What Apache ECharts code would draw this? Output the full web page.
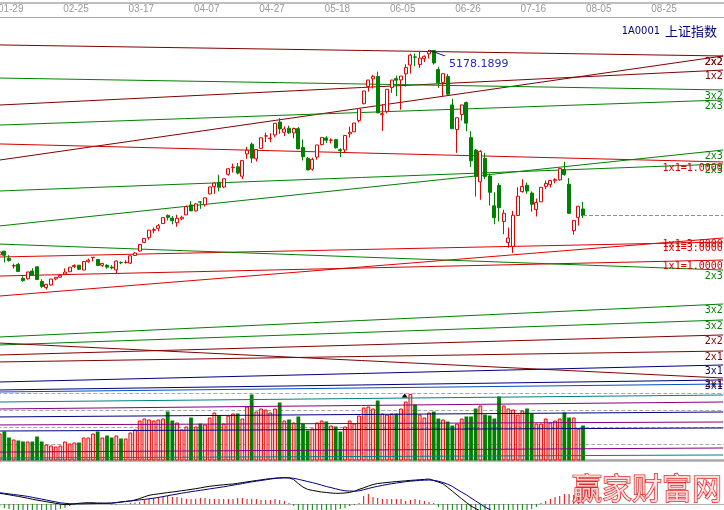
<!DOCTYPE html>
<html><head><meta charset="utf-8">
<script src="https://cdn.jsdelivr.net/npm/echarts/dist/echarts.min.js"></script>
<style>html,body{margin:0;padding:0;background:#fff;}#c{width:724px;height:510px;}</style>
</head><body><div id="c"></div>
<script>
// trading days (category axis)
const dates = ("01-26 01-27 01-28 01-29 01-30 02-02 02-03 02-04 02-05 02-06 02-09 02-10 02-11 02-12 02-13 02-16 02-17 " +
"02-25 02-26 02-27 03-02 03-03 03-04 03-05 03-06 03-09 03-10 03-11 03-12 03-13 03-16 03-17 03-18 03-19 03-20 " +
"03-23 03-24 03-25 03-26 03-27 03-30 03-31 04-01 04-02 04-03 04-07 04-08 04-09 04-10 04-13 04-14 04-15 04-16 04-17 " +
"04-20 04-21 04-22 04-23 04-24 04-27 04-28 04-29 04-30 05-04 05-05 05-06 05-07 05-08 05-11 05-12 05-13 05-14 05-15 " +
"05-18 05-19 05-20 05-21 05-22 05-25 05-26 05-27 05-28 05-29 06-01 06-02 06-03 06-04 06-05 06-08 06-09 06-10 06-11 06-12 " +
"06-15 06-16 06-17 06-18 06-19 06-23 06-24 06-25 06-26 06-29 06-30 07-01 07-02 07-03 07-06 07-07 07-08 07-09 07-10 " +
"07-13 07-14 07-15 07-16 07-17 07-20 07-21 07-22 07-23 07-24 07-27 07-28 07-29 07-30 07-31 08-03 08-04 08-05 08-06 08-07 " +
"08-10 08-11 08-12 08-13 08-14 08-17 08-18 08-19 08-20 08-21 08-24 08-25 08-26 08-27 08-28 08-31 09-01 09-02 " +
"09-07 09-08 09-09 09-10 09-11 09-14").split(" ");
const tickDates = ['01-29','02-25','03-17','04-07','04-27','05-18','06-05','06-26','07-16','08-05','08-25'];

const open = [3357,3390,3326,3258,3273,3148,3144,3213,3251,3120,3066,3090,3143,3158,3187,3207,3252,3265,3222,3296,
3333,3317,3264,3264,3248,3224,3289,3289,3284,3352,3391,3468,3510,3575,3593,3635,3708,3684,3643,3677,
3712,3801,3748,3828,3803,3899,3963,4003,3960,4073,4132,4140,4056,4254,4341,4211,4304,4413,4391,4423,
4538,4447,4483,4441,4479,4311,4216,4119,4226,4337,4396,4376,4381,4292,4290,4433,4451,4551,4701,4854,
4922,4943,4603,4633,4844,4924,4912,4966,5045,5117,5049,5101,5144,5174,5005,4890,4942,4690,4471,4605,
4711,4399,4289,4006,4214,4058,3793,3975,3654,3467,3432,3707,3920,3976,3906,3760,3828,3966,3981,4015,
4024,4116,3985,3573,3690,3765];
const close = [3383,3353,3306,3262,3210,3128,3205,3174,3137,3076,3095,3142,3158,3173,3204,3247,3262,3229,3298,3310,
3336,3263,3280,3248,3241,3302,3286,3291,3349,3373,3449,3503,3577,3582,3617,3688,3691,3661,3682,3691,
3787,3748,3810,3826,3864,3961,3995,3958,4034,4122,4136,4084,4195,4287,4217,4294,4398,4415,4394,4527,
4477,4476,4442,4480,4299,4229,4112,4206,4334,4401,4376,4378,4309,4283,4418,4446,4529,4658,4814,4911,
4942,4620,4612,4829,4911,4910,4947,5023,5132,5114,5106,5122,5166,5063,4887,4968,4785,4478,4576,4690,
4528,4193,4053,4277,4054,3913,3687,3776,3727,3507,3709,3878,3965,3924,3806,3823,3957,3992,4018,4026,
4124,4071,3726,3663,3789,3706];
const low = [3321,3290,3297,3235,3210,3119,3137,3169,3135,3064,3049,3084,3131,3154,3177,3207,3241,3221,3222,3287,
3299,3260,3250,3233,3228,3195,3273,3279,3275,3347,3383,3460,3492,3549,3566,3633,3664,3628,3607,3664,
3711,3747,3742,3766,3787,3896,3900,3922,3950,4061,4089,4072,4031,4212,4174,4187,4303,4358,4358,4403,
4432,4413,4431,4393,4298,4196,4109,4105,4203,4330,4352,4348,4301,4226,4267,4400,4449,4534,4695,4808,
4836,4614,4459,4615,4797,4767,4647,4853,4969,5034,5018,5071,5103,5048,4842,4767,4780,4476,4264,4552,
4456,4139,3875,3847,4030,3795,3629,3653,3541,3421,3374,3707,3910,3900,3741,3698,3828,3941,3956,3993,
4016,4061,3720,3537,3618,3684];
const high = [3385,3390,3355,3279,3286,3167,3206,3238,3251,3140,3099,3143,3160,3182,3237,3248,3273,3266,3300,3324,
3337,3317,3286,3275,3265,3306,3299,3309,3350,3383,3450,3503,3578,3600,3632,3691,3716,3702,3713,3705,
3795,3835,3817,3835,3866,3961,4000,4069,4034,4128,4168,4174,4195,4317,4356,4294,4400,4444,4439,4529,
4572,4499,4505,4488,4493,4383,4228,4221,4334,4402,4412,4392,4388,4305,4418,4497,4529,4658,4814,4911,
4958,4986,4698,4829,4911,4951,4947,5051,5146,5147,5164,5130,5178.1899,5176,5029,4969,4966,4744,4577,4691,
4720,4456,4297,4287,4264,4080,3914,3995,3757,3600,3748,3959,4030,4000,3921,3857,3957,4017,4018,4038,
4132,4184,4040,3667,3792,3828];
// volume (estimated units)
const volume = [270,290,230,210,200,190,190,190,240,190,
160,150,140,150,190,170,180,180,230,230,
270,290,230,250,230,250,220,220,280,310,
400,420,410,400,410,420,490,400,380,310,
340,430,340,370,360,430,480,450,370,450,
470,470,420,540,660,490,520,510,480,520,
580,400,410,380,440,370,300,320,380,400,
390,350,340,290,340,400,370,450,530,540,
520,600,470,460,470,470,520,590,665,560,
460,430,480,490,420,410,390,350,370,420,
440,440,520,550,460,450,420,640,550,520,
510,460,500,520,470,370,370,420,380,400,
420,480,430,430,320,350];
// MACD
const dif = [107,100,92,84,76,67,58,48,39,31,
23,15,7,0,-7,-5,2,7,11,13,
12,10,9,8,8,13,20,25,30,40,
55,72,87,95,101,108,114,120,126,133,
139,146,153,161,170,177,183,188,192,197,
200,207,214,221,228,235,241,248,254,258,
260,262,262,245,204,169,146,136,128,120,
115,110,107,107,110,116,127,146,162,179,
195,205,210,215,220,224,228,232,236,239,
243,246,250,235,219,203,165,128,90,52,
15,-20,-45,-70,-100,-130,-170,-200,-220,-240,
-250,-250,-245,-240,-235,-225,-212,-198,-185,-172,
-160,-150,-155,-165,-170,-175];
const dea = [113,107,101,95,89,83,76,67,58,49,
40,30,21,12,7,3,1,1,2,3,
4,5,6,7,10,15,20,26,31,35,
41,46,52,58,66,74,83,91,99,108,
115,123,130,137,144,151,158,165,172,180,
188,196,204,213,221,228,235,242,249,256,
261,263,261,257,247,236,225,214,202,188,
175,164,152,141,132,130,128,132,143,155,
167,177,186,195,203,210,217,223,228,232,
236,238,240,237,228,215,198,176,146,118,
92,60,30,0,-30,-55,-80,-100,-125,-150,
-170,-185,-195,-200,-205,-207,-208,-206,-202,-197,
-191,-184,-180,-178,-177,-176];
const macdHist = [-30,-40,-50,-60,-70,-70,-70,-70,-70,-70,-60,-60,-60,-50,
-40,-20,-10,5,10,10,10,5,5,3,-5,-5,0,5,10,15,
20,40,50,60,70,70,80,70,70,60,50,50,50,60,60,50,50,50,50,50,50,60,60,50,50,50,40,40,40,50,40,30,10,
-20,-60,-80,-90,-90,-90,-80,-70,-70,-60,-50,-40,-20,-10,10,
80,100,70,60,50,50,50,50,50,30,40,50,40,30,20,10,
-30,-60,-80,-80,-80,-80,-80,-80,-80,-80,-80,-80,-80,-80,-80,-80,-80,-80,-70,-60,-50,-30,
10,30,50,70,80,100,100,90,90,80];
// Gann lines: value at first and last category
const gannLabels = ['2x2','2x2','1x2','3x2','2x3','1x1=1.0000','2x3','2x3','1x1=3.0000','1x1=3.0000','1x1=1.0000','2x3',
'3x2','3x2','2x2','2x1','2x1','3x1','3x1','','','','','','','',''];
const gannStart = [5223,4200,4689,4929,4511,4343,3614,3925,3338,2991,3169,3453,2627,2556,2467,2405,2573,2227,2156,2138,2049,1987,1916,1845,1791,1604,1551];
const gannEnd   = [5125,5125,5000,4823,4734,4183,4289,4165,3471,3507,3311,3222,2920,2778,2645,2502,2262,2378,2245,2209,2111,2049,1960,1871,1818,1640,1578];

// styles
const gannColors = ['#800000','#800000','#800000','#008000','#008000','#d00000','#008000','#008000','#e00000','#e00000','#d00000','#008000',
'#008000','#008000','#800000','#800000','#800000','#000080','#000080','#0050c0','#008080','#800080','#000080','#800080','#000080','#800080','#008080'];
const UP = '#e80000', DOWN = '#008000';

const chart = echarts.init(document.getElementById('c'), null, {renderer: 'canvas'});
const N = dates.length;
const lastIdx = close.length - 1;
const gridBase = {left: -2.67, width: 728.05, containLabel: false, outerBoundsMode: 'none'};

const series = [];
// volume
series.push({
  type: 'bar', xAxisIndex: 1, yAxisIndex: 1, barWidth: 3.8, silent: true,
  data: volume.map((v, i) => ({
    value: v,
    itemStyle: close[i] >= open[i] ? {color: '#ffd4d4', borderColor: '#f00000', borderWidth: 1} : {color: DOWN}
  })),
  markPoint: {
    silent: true, symbol: 'triangle', symbolSize: [6, 4], symbolOffset: [-1, -6],
    itemStyle: {color: '#000'}, label: {show: false},
    data: [{coord: [dates[87], volume[87]]}]
  }
});
// Gann lines
gannLabels.forEach((lab, k) => {
  series.push({
    type: 'line', xAxisIndex: 0, yAxisIndex: 0, silent: true,
    symbol: 'circle', symbolSize: 0.5, showSymbol: true,
    itemStyle: {color: gannColors[k]},
    lineStyle: {color: gannColors[k], width: 1},
    data: [
      {value: [0, gannStart[k]]},
      {value: [N - 1, gannEnd[k]], label: {
        show: lab !== '', formatter: lab, position: [0, 2], align: 'right', verticalAlign: 'top',
        color: gannColors[k], fontFamily: 'DejaVu Sans Mono', fontSize: 10
      }}
    ],
    z: 3
  });
});
// candles
series.push({
  type: 'candlestick', xAxisIndex: 0, yAxisIndex: 0, barWidth: 3.6, silent: true,
  data: open.map((o, i) => [o, close[i], low[i], high[i]]),
  itemStyle: {color: '#ffffff', color0: DOWN, borderColor: UP, borderColor0: DOWN, borderColorDoji: UP, borderWidth: 1},
  markPoint: {
    silent: true,
    symbol: 'path://M0,0L16,6', symbolSize: [16, 6], symbolOffset: ['50%', '50%'], symbolKeepAspect: false,
    itemStyle: {color: 'none', borderColor: '#000080', borderWidth: 1},
    label: {show: true, position: [24, 16], align: 'left', verticalAlign: 'middle',
      formatter: p => Number(p.value).toFixed(4), color: '#2828c0', fontFamily: 'DejaVu Sans', fontSize: 11},
    data: [{type: 'max', valueDim: 'highest'}]
  },
  markLine: {
    silent: true, symbol: 'none', label: {show: false},
    lineStyle: {color: '#909090', type: 'dashed', width: 1},
    data: [[{coord: [dates[lastIdx], close[lastIdx]]}, {coord: [dates[N - 1], close[lastIdx]]}]]
  },
  z: 4
});
// MACD
series.push({
  type: 'bar', xAxisIndex: 2, yAxisIndex: 2, barWidth: 1, silent: true,
  data: macdHist.map(v => ({value: v, itemStyle: {color: v >= 0 ? '#f00000' : DOWN}}))
});
series.push({type: 'line', xAxisIndex: 2, yAxisIndex: 2, data: dif, symbol: 'none', silent: true,
  lineStyle: {color: '#000000', width: 1}});
series.push({type: 'line', xAxisIndex: 2, yAxisIndex: 2, data: dea, symbol: 'none', silent: true,
  lineStyle: {color: '#000080', width: 1}});

chart.setOption({
  animation: false,
  backgroundColor: '#ffffff',
  title: [
    {text: '{a|1A0001} {b|上证指数}', right: 2, top: 17,
      textStyle: {fontWeight: 'normal', rich: {
        a: {fontFamily: "'DejaVu Sans Condensed', 'Liberation Sans'", fontSize: 11, fontWeight: 'normal', color: '#000080'},
        b: {fontFamily: 'Noto Sans CJK SC', fontSize: 13, fontWeight: 'normal', color: '#000080'}
      }}},
    {text: '赢家财富网', left: 567, top: 468,
      textStyle: {fontFamily: 'Noto Sans CJK SC', fontSize: 30, fontWeight: 'normal',
        color: 'rgba(255,235,235,0.85)', textBorderColor: '#e02828', textBorderWidth: 1.4}}
  ],
  graphic: [{type: 'line', shape: {x1: 0, y1: 3, x2: 724, y2: 3}, style: {stroke: '#a8a8a8', lineWidth: 1.5}, silent: true}],
  grid: [
    Object.assign({top: 17, height: 443}, gridBase),
    Object.assign({top: 393.5, height: 67}, gridBase),
    Object.assign({top: 477, height: 83}, gridBase)
  ],
  xAxis: [
    {type: 'category', gridIndex: 0, data: dates, position: 'top', boundaryGap: true,
      axisLine: {show: true, lineStyle: {color: '#a8a8a8', width: 1}},
      axisTick: {show: false}, splitLine: {show: false},
      axisLabel: {show: true, interval: (idx, val) => tickDates.indexOf(val) >= 0,
        color: '#9a9a9a', fontFamily: 'Liberation Sans', fontSize: 10, margin: 3, padding: [0, 6, 0, 0]}},
    {type: 'category', gridIndex: 1, data: dates, boundaryGap: true, offset: 1.5,
      axisLine: {show: true, lineStyle: {color: '#a8a8a8', width: 2.5}},
      axisTick: {show: false}, axisLabel: {show: false}, splitLine: {show: false}},
    {type: 'category', gridIndex: 2, data: dates, position: 'top', boundaryGap: true,
      axisLine: {show: true, lineStyle: {color: '#b4b4b4', width: 1}},
      axisTick: {show: false}, axisLabel: {show: false}, splitLine: {show: false}}
  ],
  yAxis: [
    {type: 'value', gridIndex: 0, min: 1533.3, max: 5471.6, show: false, splitLine: {show: false}},
    {type: 'value', gridIndex: 1, min: 0, max: 670, interval: 167.5,
      axisLine: {show: false}, axisTick: {show: false}, axisLabel: {show: false},
      splitLine: {show: true, lineStyle: {color: '#a8a8a8', type: 'dashed', width: 1}}},
    {type: 'value', gridIndex: 2, min: -560, max: 270, show: false, splitLine: {show: false}}
  ],
  series: series
});
</script>
</body></html>
